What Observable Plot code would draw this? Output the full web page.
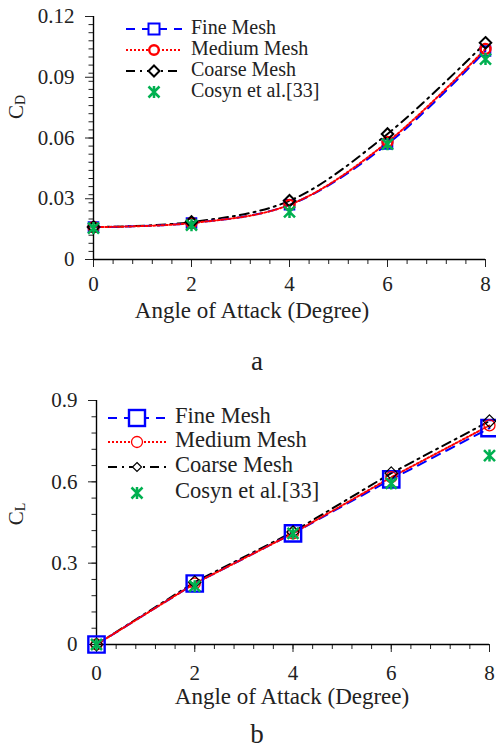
<!DOCTYPE html>
<html><head><meta charset="utf-8">
<script src="https://cdn.jsdelivr.net/npm/d3@7"></script>
<script src="https://cdn.jsdelivr.net/npm/@observablehq/plot@0.6"></script>
<style>
body{margin:0;background:#fff;}
#root{position:relative;width:496px;height:749px;font-family:"Liberation Serif","Times New Roman",serif;color:#222;}
#root svg{position:absolute;left:0;}
#root svg text{font-family:"Liberation Serif","Times New Roman",serif !important;}
.cap{position:absolute;left:0;width:514px;text-align:center;font-size:27px;line-height:20px;}
</style></head><body><div id="root"></div>
<script>
// ---- data ----
const angles = [0, 2, 4, 6, 8];
const seriesNames = ["Fine Mesh", "Medium Mesh", "Coarse Mesh", "Cosyn et al.[33]"];
// Panel a: drag coefficient
const cdFine   = [0.016, 0.018, 0.027, 0.057, 0.103];
const cdMedium = [0.016, 0.018, 0.027, 0.058, 0.104];
const cdCoarse = [0.016, 0.0185, 0.029, 0.062, 0.107];
const cdCosyn  = [0.0155, 0.017, 0.0235, 0.057, 0.099];
// Panel b: lift coefficient
const clFine   = [0, 0.225, 0.41, 0.609, 0.798];
const clMedium = [0, 0.225, 0.41, 0.617, 0.808];
const clCoarse = [0, 0.23, 0.415, 0.632, 0.824];
const clCosyn  = [0, 0.215, 0.41, 0.594, 0.697];
// ticks
const xTicks = [0, 2, 4, 6, 8];
const cdTicks = [0, 0.03, 0.06, 0.09, 0.12];
const clTicks = [0, 0.3, 0.6, 0.9];

const BLUE = "#0000ff", RED = "#ff0000", BLACK = "#000000", GREEN = "#00b050";
const DASH_FINE = "9,7", DASH_MED = "2,2", DASH_COARSE = "9,5,2,5";
const SERIF = '"Liberation Serif", "Times New Roman", serif';

const star = {draw(ctx, size) {
  const r = Math.sqrt(size / Math.PI);
  ctx.moveTo(-r, -r); ctx.lineTo(r, r);
  ctx.moveTo(-r, r); ctx.lineTo(r, -r);
  ctx.moveTo(0, -r * 1.1); ctx.lineTo(0, r * 1.1);
}};

const rows = vals => angles.map((a, i) => ({a, v: vals[i]}));
const fmt = d => d === 0 ? "0" : String(+d.toFixed(3));

function panel(c) {
  const marks = [
    Plot.axisY({ticks: c.yMinor, tickSize: 4.5, tickFormat: () => "", label: null}),
    Plot.axisY({ticks: c.yTicks, tickSize: 8, tickPadding: 11, tickFormat: fmt, label: null}),
    Plot.axisX({ticks: d3.range(0, 8.01, 0.4), tickSize: 5, tickFormat: () => "", label: null}),
    Plot.axisX({ticks: xTicks, tickSize: 8, tickPadding: c.xpad, tickFormat: d => String(d), label: null}),
    Plot.ruleX([0], {stroke: "#000", strokeWidth: 1.4}),
    Plot.ruleY([0], {stroke: "#000", strokeWidth: 1.4}),
    Plot.line(rows(c.coarse), {x: "a", y: "v", stroke: BLACK, strokeWidth: c.lw, strokeDasharray: DASH_COARSE, curve: c.curve}),
    Plot.line(rows(c.fine), {x: "a", y: "v", stroke: BLUE, strokeWidth: c.lw, strokeDasharray: DASH_FINE, curve: c.curve}),
    Plot.line(rows(c.medium), {x: "a", y: "v", stroke: RED, strokeWidth: c.lw, strokeDasharray: DASH_MED, curve: c.curve}),
    Plot.dot(rows(c.fine), {x: "a", y: "v", symbol: "square", r: c.sq, stroke: BLUE, strokeWidth: c.sqW, fill: "none"}),
    Plot.dot(rows(c.medium), {x: "a", y: "v", symbol: "circle", r: c.ci, stroke: RED, strokeWidth: c.ciW, fill: "none"}),
    Plot.dot(rows(c.coarse), {x: "a", y: "v", symbol: "diamond2", r: c.di, stroke: BLACK, strokeWidth: c.diW, fill: "none"}),
    Plot.dot(rows(c.cosyn), {x: "a", y: "v", symbol: star, r: c.st, stroke: GREEN, strokeWidth: 2.5, fill: "none"})
  ];
  const svg = Plot.plot({
    width: 496, height: c.height,
    marginTop: c.mt, marginBottom: c.mb, marginLeft: c.ml, marginRight: c.mr,
    x: {domain: [0, 8]},
    y: {domain: [0, c.yMax]},
    style: {fontFamily: SERIF, fontSize: "21px", color: "#222", background: "transparent", overflow: "visible"},
    marks
  });
  const s = d3.select(svg);
  // y label with subscript
  const yl = s.append("text").attr("transform", `translate(${c.ylx},${c.yly}) rotate(-90)`)
    .attr("text-anchor", "middle").attr("dominant-baseline", "middle")
    .attr("font-size", 21).attr("fill", "#222");
  yl.append("tspan").text("C");
  yl.append("tspan").attr("font-size", 14).attr("dy", 4).text(c.sub);
  // x label
  s.append("text").attr("x", c.xlx).attr("y", c.xly).attr("text-anchor", "middle")
    .attr("dominant-baseline", "middle").attr("font-size", 23).attr("fill", "#222")
    .text("Angle of Attack (Degree)");
  // legend
  const L = c.leg;
  const g = s.append("g").attr("text-anchor", "start");
  const styles = [
    {stroke: BLUE, dash: DASH_FINE},
    {stroke: RED, dash: DASH_MED},
    {stroke: BLACK, dash: DASH_COARSE},
    {stroke: null}
  ];
  seriesNames.forEach((name, i) => {
    const y = L.ys[i];
    const st = styles[i];
    if (st.stroke) {
      g.append("line").attr("x1", L.x1).attr("x2", L.x2).attr("y1", y).attr("y2", y)
        .attr("stroke", st.stroke).attr("stroke-width", c.lw).attr("stroke-dasharray", st.dash);
    }
    const m = L.xm;
    if (i === 0) g.append("rect").attr("x", m - L.sq).attr("y", y - L.sq).attr("width", 2 * L.sq).attr("height", 2 * L.sq)
      .attr("fill", "white").attr("stroke", BLUE).attr("stroke-width", c.sqW);
    if (i === 1) g.append("circle").attr("cx", m).attr("cy", y).attr("r", L.ci)
      .attr("fill", "white").attr("stroke", RED).attr("stroke-width", c.ciW);
    if (i === 2) g.append("path").attr("d", `M${m},${y - L.di}L${m + L.di},${y}L${m},${y + L.di}L${m - L.di},${y}Z`)
      .attr("fill", "white").attr("stroke", BLACK).attr("stroke-width", c.diW);
    if (i === 3) {
      const r = L.st;
      g.append("path").attr("d", `M${m - r},${y - r}L${m + r},${y + r}M${m - r},${y + r}L${m + r},${y - r}M${m},${y - r * 1.1}L${m},${y + r * 1.1}`)
        .attr("stroke", GREEN).attr("stroke-width", 2.5).attr("fill", "none");
    }
    g.append("text").attr("x", L.tx).attr("y", y).attr("dominant-baseline", "middle")
      .attr("text-anchor", "start")
      .attr("font-size", L.fs).attr("fill", "#222").text(name);
  });
  return svg;
}

const root = document.getElementById("root");
const svgA = panel({
  fine: cdFine, medium: cdMedium, coarse: cdCoarse, cosyn: cdCosyn,
  yMax: 0.12, yTicks: cdTicks, yMinor: d3.range(0, 0.1201, 0.004),
  height: 335, mt: 16, mb: 76, ml: 93, mr: 11, xpad: 9,
  curve: "catmull-rom", lw: 2,
  sq: 5.4, sqW: 2, ci: 5, ciW: 2.4, di: 5.2, diW: 2, st: 5.5,
  sub: "D", ylx: 18, yly: 107, xlx: 252, xly: 313,
  leg: {x1: 126, x2: 182, xm: 154, tx: 191, ys: [29, 50, 71, 92], fs: 20, sq: 5.5, ci: 4.8, di: 5.5, st: 5.5}
});
svgA.style.top = "0px";
root.appendChild(svgA);
const capA = document.createElement("div"); capA.className = "cap"; capA.style.top = "351px"; capA.textContent = "a";
root.appendChild(capA);

const svgB = panel({
  fine: clFine, medium: clMedium, coarse: clCoarse, cosyn: clCosyn,
  yMax: 0.9, yTicks: clTicks, yMinor: d3.range(0, 0.901, 0.06),
  height: 330, mt: 20, mb: 66, ml: 96, mr: 7, xpad: 13,
  curve: "linear", lw: 2,
  sq: 9.2, sqW: 2.4, ci: 5.5, ciW: 1.3, di: 5.6, diW: 1.2, st: 5.5,
  sub: "L", ylx: 18, yly: 134, xlx: 292, xly: 319,
  leg: {x1: 108, x2: 166, xm: 137, tx: 175, ys: [38, 62, 87, 113], fs: 22.5, sq: 8, ci: 5.5, di: 4.5, st: 5.5}
});
svgB.style.top = "380px";
root.appendChild(svgB);
const capB = document.createElement("div"); capB.className = "cap"; capB.style.top = "724px"; capB.textContent = "b";
root.appendChild(capB);
</script>
</body></html>
